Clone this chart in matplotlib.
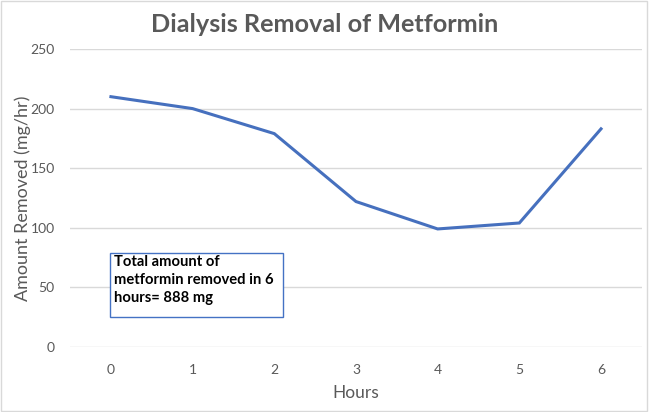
import matplotlib
matplotlib.use("Agg")
import matplotlib.pyplot as plt
from matplotlib.patches import Rectangle

# Data
hours = [0, 1, 2, 3, 4, 5, 6]
removed = [210, 200, 179, 122, 99, 104, 183]
y_ticks = [0, 50, 100, 150, 200, 250]

grey = "#595959"
plt.rcParams["font.family"] = ["Lato", "DejaVu Sans"]

fig = plt.figure(figsize=(6.49, 4.12), dpi=100)
ax = fig.add_axes([0.108, 0.158, 0.881, 0.723])

ax.plot(hours, removed, color="#4670BE", linewidth=2.2, solid_joinstyle="miter")

ax.set_xlim(-0.5, 6.5)
ax.set_ylim(0, 250)
ax.set_xticks(hours)
ax.set_yticks(y_ticks)
ax.tick_params(length=0, labelsize=10, colors=grey, pad=12)
ax.tick_params(axis="y", pad=11)
ax.grid(axis="y", color="#D9D9D9", linewidth=1)
ax.set_axisbelow(True)
for s in ax.spines.values():
    s.set_visible(False)

ax.set_xlabel("Hours", fontsize=12.5, color=grey)
ax.xaxis.set_label_coords(0.5, -0.128)
ax.set_ylabel("Amount Removed (mg/hr)", fontsize=13, color=grey)
ax.yaxis.set_label_coords(-0.068, 0.5)
fig.text(0.5, 0.94, "Dialysis Removal of Metformin", ha="center", va="center",
         fontsize=18.2, fontweight="bold", color=grey)

# annotation box
fig.patches.append(Rectangle((110 / 649, 1 - 317 / 412), 173 / 649, 64 / 412,
                             transform=fig.transFigure, facecolor="white",
                             edgecolor="#4472C4", linewidth=1))
fig.text(114 / 649, 1 - 255 / 412,
         "Total amount of\nmetformin removed in 6\nhours= 888 mg",
         ha="left", va="top", fontsize=10.6, fontweight="bold", color="black",
         linespacing=1.35)

# outer frame
fig.patches.append(Rectangle((0.002, 0.003), 0.995, 0.994, transform=fig.transFigure,
                             facecolor="none", edgecolor="#D9D9D9", linewidth=1))

fig.savefig("out.png", dpi=100)
